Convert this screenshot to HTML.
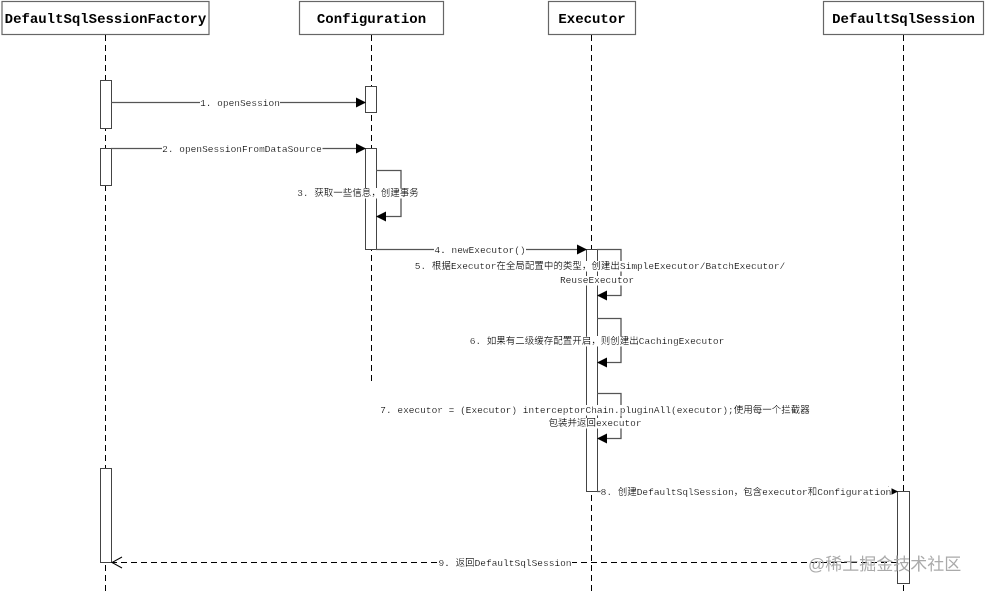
<!DOCTYPE html>
<html><head><meta charset="utf-8"><style>
html,body{margin:0;padding:0;background:#fff;}
svg{display:block}
.h{font-family:"Liberation Mono","Noto Serif CJK SC",monospace;font-weight:bold;font-size:14px;fill:#000}
.l text{font-family:"Liberation Mono","Noto Sans CJK SC",monospace;font-size:9.5px;fill:#000;filter:url(#bg)}
</style></head><body>
<svg width="985" height="592" viewBox="0 0 985 592" xmlns="http://www.w3.org/2000/svg">
<defs>
<marker id="a" markerWidth="10" markerHeight="10" refX="9" refY="5" orient="auto" markerUnits="userSpaceOnUse"><path d="M0,0 L10,5 L0,10 z" fill="#000"/></marker>
<filter id="bg" x="0" y="0.1" width="1" height="0.85"><feFlood flood-color="#fff"/><feComposite in="SourceGraphic"/></filter>
</defs>
<g stroke="#666" fill="#fff" stroke-width="1.2">
<rect x="2" y="1.5" width="207" height="33"/>
<rect x="299.5" y="1.5" width="144" height="33"/>
<rect x="548.5" y="1.5" width="87" height="33"/>
<rect x="823.5" y="1.5" width="160" height="33"/>
</g>
<text class="h" x="105.5" y="23" text-anchor="middle">DefaultSqlSessionFactory</text>
<text class="h" x="371.5" y="23" text-anchor="middle">Configuration</text>
<text class="h" x="592" y="23" text-anchor="middle">Executor</text>
<text class="h" x="903.5" y="23" text-anchor="middle">DefaultSqlSession</text>
<g stroke="#000" stroke-width="1" stroke-dasharray="6,4">
<line x1="105.5" y1="35" x2="105.5" y2="592"/>
<line x1="371.5" y1="35" x2="371.5" y2="385"/>
<line x1="591.5" y1="35" x2="591.5" y2="592"/>
<line x1="903.5" y1="35" x2="903.5" y2="592"/>
</g>
<g stroke="#444" fill="#fff" stroke-width="1">
<rect x="100.5" y="80.5" width="11" height="48"/>
<rect x="100.5" y="148.5" width="11" height="37"/>
<rect x="100.5" y="468.5" width="11" height="94"/>
<rect x="365.5" y="86.5" width="11" height="26"/>
<rect x="365.5" y="148.5" width="11" height="101"/>
<rect x="586.5" y="249.5" width="11" height="242"/>
<rect x="897.5" y="491.5" width="12" height="92"/>
</g>
<g stroke="#555" stroke-width="1.3" fill="none">
<line x1="111" y1="102.5" x2="365" y2="102.5" marker-end="url(#a)"/>
<line x1="111" y1="148.5" x2="365" y2="148.5" marker-end="url(#a)"/>
<polyline points="376,170.5 401,170.5 401,216.5 377,216.5" marker-end="url(#a)"/>
<line x1="376" y1="249.5" x2="586" y2="249.5" marker-end="url(#a)"/>
<polyline points="597,249.5 621,249.5 621,295.5 598,295.5" marker-end="url(#a)"/>
<polyline points="597,318.5 621,318.5 621,362.5 598,362.5" marker-end="url(#a)"/>
<polyline points="597,393.5 621,393.5 621,438.5 598,438.5" marker-end="url(#a)"/>
<line x1="597" y1="491.5" x2="897" y2="491.5" marker-end="url(#a)"/>
<line x1="897" y1="562.5" x2="112" y2="562.5" stroke="#000" stroke-width="1" stroke-dasharray="6,4"/>
<polyline points="122,557 112,562.5 122,568" stroke="#000" stroke-width="1"/>
</g>
<g class="l">
<text x="240" y="106" text-anchor="middle">1. openSession</text>
<text x="242" y="152" text-anchor="middle">2. openSessionFromDataSource</text>
<text x="358" y="196" text-anchor="middle">3. 获取一些信息，创建事务</text>
<text x="480" y="253" text-anchor="middle">4. newExecutor()</text>
<text x="600" y="269" text-anchor="middle">5. 根据Executor在全局配置中的类型，创建出SimpleExecutor/BatchExecutor/</text>
<text x="597" y="283" text-anchor="middle">ReuseExecutor</text>
<text x="597" y="344" text-anchor="middle">6. 如果有二级缓存配置开启，则创建出CachingExecutor</text>
<text x="595" y="413" text-anchor="middle">7. executor = (Executor) interceptorChain.pluginAll(executor);使用每一个拦截器</text>
<text x="595" y="426" text-anchor="middle">包装并返回executor</text>
<text x="746" y="495" text-anchor="middle">8. 创建DefaultSqlSession，包含executor和Configuration</text>
<text x="505" y="566" text-anchor="middle">9. 返回DefaultSqlSession</text>
</g>
<text x="808" y="570" font-family="'Liberation Sans','Noto Sans CJK SC',sans-serif" font-size="17" fill="#aaa">@稀土掘金技术社区</text>
</svg>
</body></html>
